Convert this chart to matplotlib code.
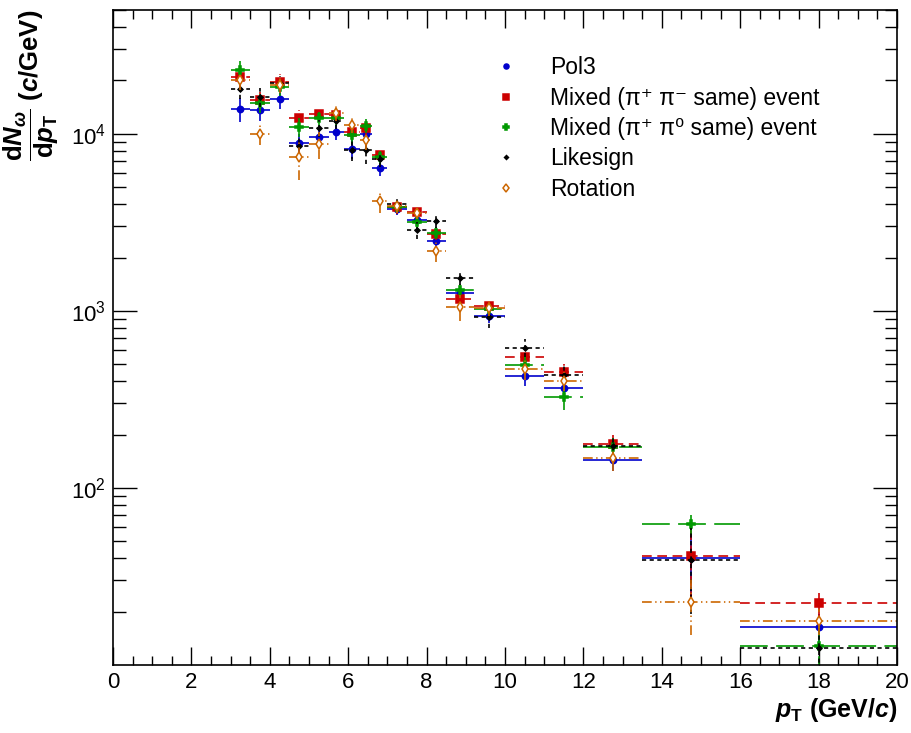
import matplotlib
matplotlib.use("Agg")
import matplotlib.pyplot as plt
from matplotlib.lines import Line2D
from matplotlib.ticker import MultipleLocator, LogLocator, NullFormatter

plt.rcParams['font.family'] = ['Liberation Sans', 'DejaVu Sans']
plt.rcParams['mathtext.fontset'] = 'custom'
plt.rcParams['mathtext.rm'] = 'Liberation Sans:bold'
plt.rcParams['mathtext.it'] = 'Liberation Sans:bold:italic'
plt.rcParams['mathtext.bf'] = 'Liberation Sans:bold'
plt.rcParams['lines.scale_dashes'] = False

# pT bins (GeV/c)
bin_lo = [3.0, 3.5, 4.0, 4.5, 5.0, 5.5, 5.9, 6.3, 6.6, 7.0, 7.5, 8.0, 8.5, 9.2, 10.0, 11.0, 12.0, 13.5, 16.0]
bin_hi = [3.5, 4.0, 4.5, 5.0, 5.5, 5.9, 6.3, 6.6, 7.0, 7.5, 8.0, 8.5, 9.2, 10.0, 11.0, 12.0, 13.5, 16.0, 20.0]
pt = [3.25, 3.75, 4.25, 4.75, 5.25, 5.7, 6.1, 6.45, 6.8, 7.25, 7.75, 8.25, 8.85, 9.6, 10.5, 11.5, 12.75, 14.75, 18.0]

# dN/dpT per background method
pol3 = [13800, 13640, 15700, 8830, 9620, 10250, 8240, 9910, 6400, 3780, 3270, 2480, 1260, 937, 430, 366, 144, 40.3, 16.3]
pol3_err = [2200, 1900, 1900, 1100, 1000, 1000, 1000, 1000, 650, 300, 250, 200, 110, 80, 55, 45, 20, 18, 3]
mixed_pm = [20800, 15450, 19680, 12300, 13000, 12750, 10250, 10720, 7590, 3840, 3600, 2720, 1163, 1067, 545, 449, 176, 41, 22.3]
mixed_pm_err = [2400, 1800, 2000, 1300, 1100, 1100, 1000, 1000, 650, 300, 270, 210, 120, 90, 60, 50, 22, 18, 3.3]
mixed_p0 = [22800, 14900, 18400, 10900, 12200, 12200, 9780, 11040, 7390, 3880, 3160, 2750, 1306, 1022, 495, 327, 170, 62.3, 12.8]
mixed_p0_err = [2800, 1800, 2000, 1300, 1100, 1100, 1000, 1000, 650, 300, 250, 220, 120, 90, 60, 50, 22, 8, 5]
likesign = [17970, 16150, 19300, 8530, 10800, 11790, 8100, 8080, 7170, 4010, 2860, 3200, 1540, 920, 620, 432, 172, 39.3, 12.4]
likesign_err = [2200, 2000, 2000, 1200, 1200, 1200, 1100, 1300, 700, 330, 300, 270, 150, 120, 70, 55, 24, 20, 4]
rotation = [20000, 9960, 18900, 7400, 8720, 13100, 11270, 9170, 4150, 3900, 3560, 2190, 1052, 1040, 468, 403, 147, 22.7, 17.7]
rotation_err = [2400, 1300, 2000, 1900, 1500, 1300, 1200, 1100, 600, 320, 280, 300, 180, 110, 60, 50, 22, 8, 3]

labels = ['Pol3', 'Mixed (π⁺ π⁻ same) event', 'Mixed (π⁺ π⁰ same) event', 'Likesign', 'Rotation']

series = [
    (pol3, pol3_err, '#0000cc', '-', 'o', 4.5, '#0000cc'),
    (mixed_pm, mixed_pm_err, '#cc0000', (0, (7, 4)), 's', 6, '#cc0000'),
    (mixed_p0, mixed_p0_err, '#009900', (0, (20, 6)), 'P', 5.5, '#009900'),
    (likesign, likesign_err, 'black', (0, (3, 2.5)), 'D', 2.5, 'black'),
    (rotation, rotation_err, '#cc6600', (0, (7, 2.5, 1, 2.5, 1, 2.5)), 'd', 5.5, 'white'),
]

fig = plt.figure(figsize=(9.12, 7.33), dpi=100)
ax = fig.add_axes([0.1239, 0.0928, 0.8597, 0.8936])

handles = []
for (vals, errs, col, ls, mk, ms, fc), lab in zip(series, labels):
    lo = [v - e for v, e in zip(vals, errs)]
    hi = [v + e for v, e in zip(vals, errs)]
    ax.hlines(vals, bin_lo, bin_hi, colors=col, linestyles=[ls], linewidth=1.4, alpha=0.85)
    ax.vlines(pt, lo, hi, colors=col, linestyles=[ls], linewidth=1.4, alpha=0.85)
    ax.plot(pt, vals, linestyle='none', marker=mk, markersize=ms, color=col,
            markerfacecolor=fc, markeredgecolor=col, markeredgewidth=1.1)
    handles.append(Line2D([], [], linestyle='none', marker=mk, markersize=ms * 0.8, color=col,
                          markerfacecolor=fc, markeredgecolor=col, markeredgewidth=1.1))

ax.set_yscale('log')
ax.set_xlim(0, 20)
ax.set_ylim(10, 5e4)

ax.xaxis.set_major_locator(MultipleLocator(2))
ax.xaxis.set_minor_locator(MultipleLocator(0.5))
ax.set_yticks([1e2, 1e3, 1e4])
ax.yaxis.set_minor_locator(LogLocator(base=10, subs=range(2, 10), numticks=20))
ax.yaxis.set_minor_formatter(NullFormatter())

ax.tick_params(which='both', direction='in', top=True, right=True, labelsize=16)
ax.tick_params(axis='x', which='major', length=13, width=1, pad=5)
ax.tick_params(axis='x', which='minor', length=6.5, width=1)
ax.tick_params(axis='y', which='major', length=17, width=1, pad=5)
ax.tick_params(axis='y', which='minor', length=9, width=1)
for sp in ax.spines.values():
    sp.set_linewidth(1.2)

ax.set_xlabel(r'$p_{\mathrm{T}}$ (GeV/$c$)', fontsize=18, fontweight='bold', loc='right')
ax.xaxis.set_label_coords(1.0, -0.048)
ax.set_ylabel(r'$\dfrac{\mathrm{d}N_{\omega}}{\mathrm{d}p_{\mathrm{T}}}$ ($c$/GeV)', fontsize=18.5,
              fontweight='bold', loc='top')
ax.yaxis.set_label_coords(-0.066, 1.0)

ax.legend(handles, labels, loc='upper left', bbox_to_anchor=(0.475, 0.943), frameon=False,
          fontsize=16.5, handlelength=1.0, handletextpad=1.42, labelspacing=0.32, borderaxespad=0)

fig.savefig('out.png', dpi=100)
